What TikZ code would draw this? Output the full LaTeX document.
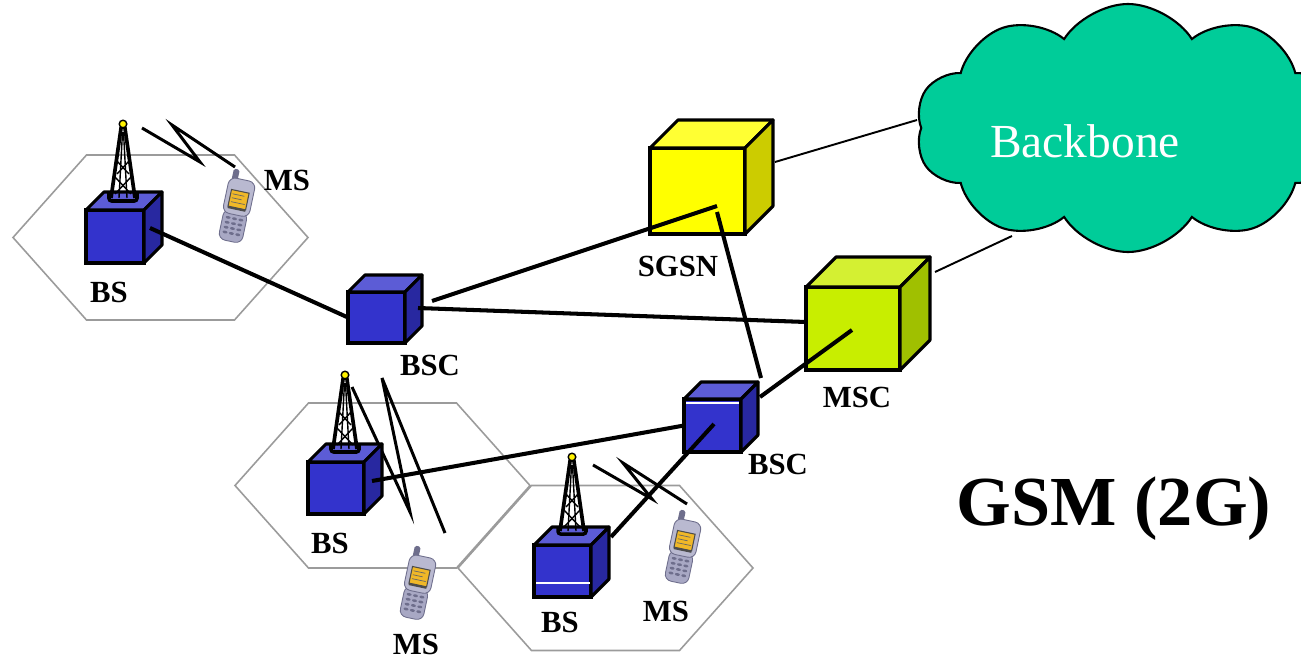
\documentclass[tikz,border=0pt]{standalone}
\usepackage{fontspec}
\setmainfont{Liberation Serif}
\usetikzlibrary{shapes.symbols}

\definecolor{bsfront}{RGB}{51,51,204}
\definecolor{bstop}{RGB}{92,92,214}
\definecolor{bsside}{RGB}{40,40,160}
\definecolor{sgsnfront}{RGB}{255,255,0}
\definecolor{sgsntop}{RGB}{255,255,51}
\definecolor{sgsnside}{RGB}{204,204,0}
\definecolor{mscfront}{RGB}{200,238,0}
\definecolor{msctop}{RGB}{212,240,50}
\definecolor{mscside}{RGB}{160,192,0}
\definecolor{cloudgreen}{RGB}{0,204,153}
\definecolor{cellgrey}{RGB}{155,155,155}
\definecolor{phonebody}{RGB}{168,168,196}
\definecolor{phoneedge}{RGB}{110,110,140}
\definecolor{phonescreen}{RGB}{240,184,40}

% #1 name, #2 colour set, #3 x, #4 y (front top left), #5 width, #6 height, #7 depth
\newcommand{\netbox}[7]{%
  \node[cubeface, fill=#2front, minimum width=#5*0.02cm, minimum height=#6*0.02cm,
        anchor=north west] (#1) at (#3,#4) {};
  \filldraw[cubeline, fill=#2top] (#1.north west) -- ++(#7,-#7) -- ++(#5,0) -- (#1.north east) -- cycle;
  \filldraw[cubeline, fill=#2side] (#1.north east) -- ++(#7,-#7) -- ++(0,#6) -- (#1.south east) -- cycle;
}

\tikzset{
  cubeface/.style={draw, line width=1.8pt, inner sep=0pt, outer sep=0pt},
  cubeline/.style={line width=1.8pt, line join=round},
  cell/.style={draw=cellgrey, line width=0.9pt},
  link/.style={line width=2.3pt},
  thinlink/.style={line width=1.1pt},
  radio/.style={line width=1.7pt},
  lbl/.style={font=\fontsize{17.5}{21}\selectfont\bfseries, anchor=base, inner sep=0pt},
  pics/tower/.style={code={
    \draw[line width=0.8pt] (-4,74) -- (-0.5,8) (4,74) -- (0.5,8);
    \draw[line width=0.8pt] (-7,36) -- (6,50) (7,36) -- (-6,50) (-9,52) -- (8,70) (9,52) -- (-8,70);
    \draw[line width=2.1pt] (-12,74) -- (-1.8,3) (12,74) -- (1.8,3);
    \draw[line width=2pt, rounded corners=1.5pt] (-14,69) -- (-14,77) -- (14,77) -- (14,69);
    \filldraw[fill=yellow, line width=0.8pt] (0,0) circle (3.8);
  }},
  pics/phone/.style={code={
    \fill[phoneedge, rounded corners=1pt] (-11,-37) rectangle (-5,-25);
    \filldraw[draw=phoneedge, line width=0.5pt, fill=phonebody, rounded corners=4pt] (-12,4) rectangle (12,35);
    \filldraw[draw=phoneedge, line width=0.5pt, fill=phonebody!80!white, rounded corners=4pt] (-13.5,-28) rectangle (13.5,8);
    \filldraw[fill=phonescreen, draw=black!70, line width=0.6pt] (-9,-16) rectangle (9,1);
    \draw[black!60, line width=0.4pt] (-7,-12) -- (5,-12) (-7,-8) -- (3,-8) (-7,-4) -- (7,-4);
    \fill[black!70] (-9,1) rectangle (9,3);
    \foreach \ky in {12,17,22,27}
      \foreach \kx in {-6.5,0,6.5}
        \fill[phoneedge] (\kx,\ky) ellipse (2.5 and 1.4);
  }},
}

\begin{document}
\begin{tikzpicture}[x=0.02cm, y=-0.02cm]
  \useasboundingbox (0,0) rectangle (1301,659);
  \clip (0,0) rectangle (1301,659);

  % cells
  \foreach \cx/\cy in {160.5/237.5, 382.5/485.5, 605.5/568}
    \draw[cell] (\cx-147.5,\cy) -- (\cx-74,\cy-82.5) -- (\cx+74,\cy-82.5) -- (\cx+147.5,\cy)
      -- (\cx+74,\cy+82.5) -- (\cx-74,\cy+82.5) -- cycle;

  % radio links
  \draw[radio] (142,128) -- (200,162) -- (172,125) -- (235,167);
  \draw[radio] (352,387) -- (410,512) -- (382,378) -- (445,533);
  \draw[radio] (593,465) -- (652,499) -- (623,463) -- (687,504);

  % network elements
  \netbox{bs1}{bs}{86}{210}{58}{53}{18}
  \netbox{bs2}{bs}{308}{462}{56}{52}{18}
  \netbox{bs3}{bs}{534}{545}{57}{52}{18}
  \netbox{bsc1}{bs}{348}{292}{57}{51}{17}
  \netbox{bsc2}{bs}{684}{399}{57}{53}{17}
  \netbox{sgsn}{sgsn}{650}{148}{95}{86}{28}
  \netbox{msc}{msc}{806}{287}{94}{83}{30}
  \draw[white, line width=0.8pt] (536,583) -- (590,583);
  \draw[white, line width=0.8pt] (686,403) -- (739,403);

  \pic at (123,124) {tower};
  \pic at (345,375) {tower};
  \pic at (572,457) {tower};

  % link end points
  \coordinate (bs1p) at (150,228);
  \coordinate (bs2p) at (372,481);
  \coordinate (bs3p) at (611,537);
  \coordinate (bsc1a) at (432,301);
  \coordinate (bsc1b) at (418,308);
  \coordinate (bsc2a) at (714,424);
  \coordinate (bsc2b) at (761,378);
  \coordinate (bsc2c) at (760,397);
  \coordinate (sgsna) at (717,206);
  \coordinate (sgsnb) at (717,212);
  \coordinate (mscw) at (806,322);
  \coordinate (mscin) at (852,330);

  \draw[link] (bs1p) -- (bsc1.west);
  \draw[link] (bsc1a) -- (sgsna);
  \draw[link] (bsc1b) -- (mscw);
  \draw[link] (sgsnb) -- (bsc2b);
  \draw[link] (bsc2c) -- (mscin);
  \draw[link] (bs2p) -- (bsc2.west);
  \draw[link] (bs3p) -- (bsc2a);

  % mobiles
  \pic[rotate=-12] at (237,207) {phone};
  \pic[rotate=-12] at (418,584) {phone};
  \pic[rotate=-12] at (683,548) {phone};

  % labels
  \node[lbl] (lms1) at (287,190) {MS};
  \node[lbl] (lbs1) at (109,302) {BS};
  \node[lbl] (lbsc1) at (430,375) {BSC};
  \node[lbl] (lsgsn) at (678,276) {SGSN};
  \node[lbl] (lmsc) at (857,407) {MSC};
  \node[lbl] (lbsc2) at (778,474) {BSC};
  \node[lbl] (lbs2) at (330,553) {BS};
  \node[lbl] (lms2) at (416,654) {MS};
  \node[lbl] (lbs3) at (560,632) {BS};
  \node[lbl] (lms3) at (666,621) {MS};

  % backbone
  \coordinate (sgsnr) at (775,162);
  \coordinate (cloudw) at (917,120);
  \coordinate (mscr) at (935,272);
  \coordinate (clouds) at (1012,236);
  \draw[thinlink] (sgsnr) -- (cloudw);
  \draw[thinlink] (mscr) -- (clouds);
  \node[cloud, cloud puffs=10, cloud puff arc=115, cloud ignores aspect, draw, line width=1.2pt, fill=cloudgreen,
        minimum width=425*0.02cm, minimum height=248*0.02cm] (backbone) at (1128,128) {};
  \node[font=\fontsize{27}{32}\selectfont, text=white, anchor=base, inner sep=0pt] (lbackbone) at (1085,157) {Backbone};

  \node[font=\fontsize{40}{46}\selectfont\bfseries, anchor=base, inner sep=0pt] (title) at (1114,525) {GSM (2G)};
\end{tikzpicture}
\end{document}
